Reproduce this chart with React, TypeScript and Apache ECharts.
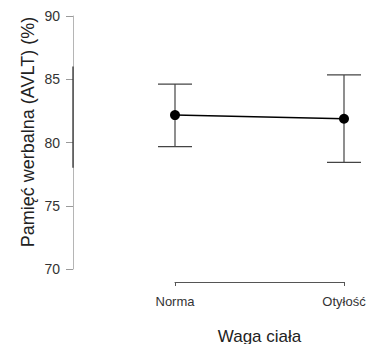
import React, { useEffect, useRef } from "react";
import * as echarts from "echarts";

// Group means with 95% confidence limits
const categories = ["Norma", "Otyłość"];
const means = [82.17, 81.88];
const lowerCI = [79.67, 78.43];
const upperCI = [84.62, 85.34];
const yMin = 70;
const yMax = 90;
const yInterval = 5;
// Range-frame segment drawn on the y axis line
const yFrame = [78, 86];

const FONT = "Liberation Sans, Arial, Helvetica, sans-serif";
const Y_AXIS_OFFSET = 102;

export default function App() {
  const ref = useRef<HTMLDivElement>(null);

  useEffect(() => {
    if (!ref.current) return;
    const chart = echarts.init(ref.current, null, { renderer: "svg" });

    const option = {
      animation: false,
      backgroundColor: "#ffffff",
      grid: {
        left: 175,
        right: 30,
        top: 16,
        bottom: 75,
        containLabel: false,
        outerBoundsMode: "none",
      },
      xAxis: {
        type: "category",
        data: categories,
        boundaryGap: false,
        offset: 13,
        axisLine: { show: true, lineStyle: { color: "#555555", width: 1 } },
        axisTick: { show: true, length: 4, lineStyle: { color: "#555555" } },
        axisLabel: { margin: 13, fontSize: 13, color: "#333333", fontFamily: FONT },
        name: "Waga ciała",
        nameLocation: "middle",
        nameGap: 46,
        nameTextStyle: { fontSize: 17, color: "#222222", fontFamily: FONT },
        splitLine: { show: false },
      },
      yAxis: {
        type: "value",
        min: yMin,
        max: yMax,
        interval: yInterval,
        offset: Y_AXIS_OFFSET,
        axisLine: { show: true, lineStyle: { color: "#b5b5b5", width: 1 } },
        axisTick: { show: true, length: 7, lineStyle: { color: "#9a9a9a" } },
        axisLabel: { margin: 13, fontSize: 14, color: "#333333", fontFamily: FONT },
        splitLine: { show: false },
      },
      graphic: [
        {
          type: "text",
          x: 28,
          y: 132,
          rotation: Math.PI / 2,
          style: {
            text: "Pamięć werbalna (AVLT) (%)",
            fontSize: 18,
            fontFamily: FONT,
            fill: "#222222",
            align: "center",
            verticalAlign: "middle",
          },
        },
      ],
      series: [
        {
          type: "custom",
          clip: false,
          z: 3,
          data: [[0, yFrame[0], yFrame[1]]],
          renderItem: (params: any, api: any) => {
            const a = api.coord([api.value(0), api.value(1)]);
            const b = api.coord([api.value(0), api.value(2)]);
            const x = a[0] - Y_AXIS_OFFSET;
            return {
              type: "line",
              shape: { x1: x, y1: a[1], x2: x, y2: b[1] },
              style: { stroke: "#333333", lineWidth: 1.3 },
            };
          },
        },
        {
          type: "custom",
          clip: false,
          z: 3,
          data: categories.map((_, i) => [i, lowerCI[i], upperCI[i]]),
          renderItem: (params: any, api: any) => {
            const lo = api.coord([api.value(0), api.value(1)]);
            const hi = api.coord([api.value(0), api.value(2)]);
            const half = 17;
            const style = { stroke: "#444444", lineWidth: 1.2 };
            return {
              type: "group",
              children: [
                { type: "line", shape: { x1: lo[0], y1: lo[1], x2: hi[0], y2: hi[1] }, style },
                { type: "line", shape: { x1: lo[0] - half, y1: lo[1], x2: lo[0] + half, y2: lo[1] }, style },
                { type: "line", shape: { x1: hi[0] - half, y1: hi[1], x2: hi[0] + half, y2: hi[1] }, style },
              ],
            };
          },
        },
        {
          type: "line",
          z: 5,
          data: means,
          symbol: "circle",
          symbolSize: 10,
          lineStyle: { color: "#000000", width: 1.5 },
          itemStyle: { color: "#000000" },
        },
      ],
    };

    chart.setOption(option);
    return () => chart.dispose();
  }, []);

  return (
    <div
      ref={ref}
      style={{ position: "fixed", left: 0, top: 0, width: 374, height: 344 }}
    />
  );
}
